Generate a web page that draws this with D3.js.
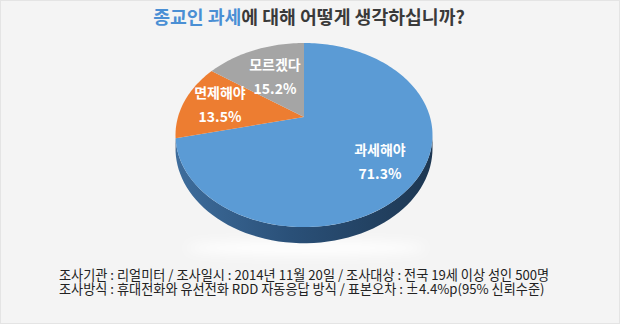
<!DOCTYPE html>
<html>
<head>
<meta charset="utf-8">
<script src="https://cdn.jsdelivr.net/npm/d3@7"></script>
<style>
  body { margin: 0; background: #fff; }
  svg { display: block; font-family: "Noto Sans CJK KR", "Noto Sans", sans-serif; }
</style>
</head>
<body>
<div id="chart"></div>
<script>
// data
const categories = ["과세해야", "면제해야", "모르겠다"];
const values = [71.3, 13.5, 15.2];
const titleParts = ["종교인 과세", "에 대해 어떻게 생각하십니까?"];
const notes = [
  "조사기관 : 리얼미터 / 조사일시 : 2014년 11월 20일 / 조사대상 : 전국 19세 이상 성인 500명",
  "조사방식 : 휴대전화와 유선전화 RDD 자동응답 방식 / 표본오차 : ±4.4%p(95% 신뢰수준)"
];

const WIDTH = 620;
const HEIGHT = 324;

const svg = d3
  .select("#chart")
  .append("svg")
  .attr("width", WIDTH)
  .attr("height", HEIGHT);

const defs = svg.append("defs");

// background
svg
  .append("rect")
  .attr("x", 0.5)
  .attr("y", 0.5)
  .attr("width", WIDTH - 1)
  .attr("height", HEIGHT - 1)
  .attr("fill", "#f4f4f4")
  .attr("stroke", "#e4e4e4");

const color = d3
  .scaleOrdinal()
  .domain(categories)
  .range(["#5b9bd5", "#ed7d31", "#a5a5a5"]);

const sideColor = d3
  .scaleOrdinal()
  .domain(categories)
  .range(["url(#sideBlue)", "#a9551f", "#6f6f6f"]);

const grad = defs
  .append("linearGradient")
  .attr("id", "sideBlue")
  .attr("x1", "0%")
  .attr("x2", "100%");
grad.append("stop").attr("offset", "0%").attr("stop-color", "#3e6d9c");
grad.append("stop").attr("offset", "45%").attr("stop-color", "#2a5078");
grad.append("stop").attr("offset", "100%").attr("stop-color", "#1d3752");

const blur = defs.append("filter").attr("id", "glow").attr("x", "-20%").attr("y", "-200%").attr("width", "140%").attr("height", "500%");
blur.append("feGaussianBlur").attr("stdDeviation", 6);

// perspective pie: apex, scales, tilt
const cx = 304, cy = 117;
const kx = 126, kz = 88.5, a = 0.196, depth = 13;

// theta clockwise from 12 o'clock
function project(theta, down) {
  const x = Math.sin(theta);
  const z = Math.cos(theta);
  const s = 1 / (1 + a * z);
  return [cx + kx * x * s, cy - kz * z * s + (down ? depth * s : 0)];
}

const pie = d3.pie().sort(null).value(d => d)(values);

// shadow under pie
svg
  .append("ellipse")
  .attr("cx", cx + 2)
  .attr("cy", 248)
  .attr("rx", 120)
  .attr("ry", 7)
  .attr("fill", "#ffffff")
  .attr("filter", "url(#glow)");

// visible rim between the two horizontal extremes
const front0 = Math.acos(-a);
const front1 = 2 * Math.PI - Math.acos(-a);

function sidePath(d) {
  const t0 = Math.max(d.startAngle, front0);
  const t1 = Math.min(d.endAngle, front1);
  if (t1 <= t0) return null;
  const n = 60;
  const top = d3.range(n + 1).map(i => project(t0 + (t1 - t0) * i / n, false));
  const bot = d3.range(n + 1).map(i => project(t1 - (t1 - t0) * i / n, true));
  return d3.line()(top.concat(bot)) + "Z";
}

function topPath(d) {
  const n = Math.max(8, Math.ceil((d.endAngle - d.startAngle) * 40));
  const pts = [[cx, cy]].concat(
    d3.range(n + 1).map(i => project(d.startAngle + (d.endAngle - d.startAngle) * i / n, false))
  );
  return d3.line()(pts) + "Z";
}

svg
  .append("g")
  .selectAll("path")
  .data(pie.filter(d => sidePath(d)))
  .join("path")
  .attr("d", sidePath)
  .attr("fill", d => sideColor(categories[d.index]));

svg
  .append("g")
  .selectAll("path")
  .data(pie)
  .join("path")
  .attr("d", topPath)
  .attr("fill", d => color(categories[d.index]));

// labels
const labelPos = [
  [380, 150],
  [220, 93],
  [275, 65]
];
const labels = svg
  .append("g")
  .attr("fill", "#ffffff")
  .attr("font-weight", 700)
  .attr("font-size", 14)
  .attr("text-anchor", "middle");

pie.forEach(d => {
  const p = labelPos[d.index];
  labels
    .append("text")
    .attr("x", p[0])
    .attr("y", p[1] + 5)
    .text(categories[d.index]);
  labels
    .append("text")
    .attr("x", p[0])
    .attr("y", p[1] + 29)
    .text(values[d.index].toFixed(1) + "%");
});

// title
const title = svg
  .append("text")
  .attr("x", 309)
  .attr("y", 24)
  .attr("text-anchor", "middle")
  .attr("font-weight", 700)
  .attr("font-size", 17);
title.append("tspan").attr("fill", "#4a8fd4").text(titleParts[0]);
title.append("tspan").attr("fill", "#3a3a3a").text(titleParts[1]);
let tl = title.node().getComputedTextLength();
title.attr("font-size", 17 * 312 / tl);

// notes, one text block with two lines
const note = svg
  .append("text")
  .attr("fill", "#222")
  .attr("font-size", 12);
note
  .selectAll("tspan")
  .data(notes)
  .join("tspan")
  .attr("x", 59)
  .attr("y", (d, i) => 280 + i * 14)
  .text(d => d);
const nl = note.select("tspan").node().getComputedTextLength();
note.attr("font-size", 12 * 491 / nl);
</script>
</body>
</html>
